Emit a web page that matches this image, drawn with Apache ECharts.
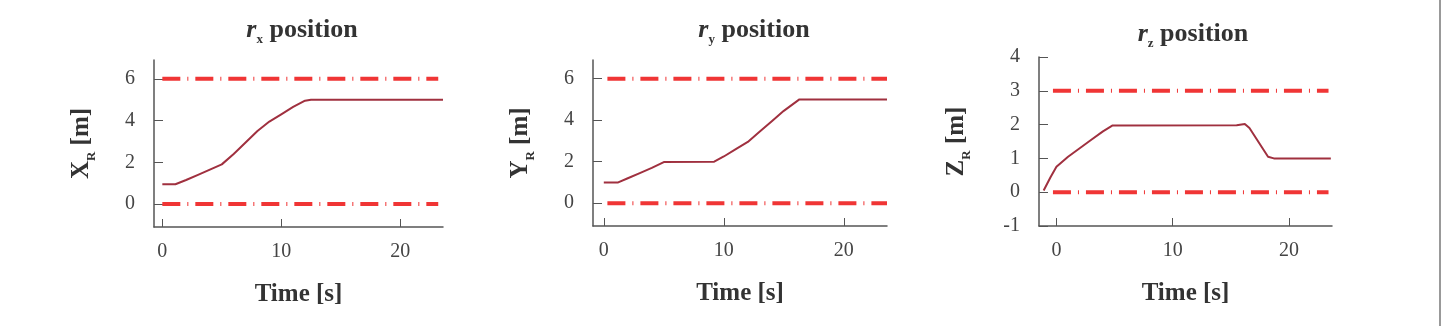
<!DOCTYPE html>
<html lang="en">
<head>
    <meta charset="UTF-8">
    <title>Robot position</title>
    <script src="https://cdn.jsdelivr.net/npm/echarts@6/dist/echarts.min.js"></script>
    <style type="text/css">
        body{ margin:0; background:#fff; }
        #main{ width:1449px; height:326px; }
    </style>
</head>
<body>
<div id="main"></div>
<script type="application/javascript">
    // data
    var timeX = [0, 1.1, 2, 3, 4, 5, 6, 7, 8, 9, 10, 11, 12, 12.5, 23.6];
    var posX  = [0.95, 0.95, 1.15, 1.4, 1.65, 1.9, 2.4, 2.95, 3.5, 3.95, 4.3, 4.65, 4.95, 5, 5];

    var timeY = [0, 1.2, 2, 3, 4, 5, 9.2, 10, 11, 12, 13, 14, 15, 16.3, 23.6];
    var posY  = [1, 1, 1.2, 1.45, 1.7, 1.98, 2, 2.25, 2.6, 2.95, 3.45, 3.95, 4.45, 5, 5];

    var timeZ = [-1.1, -0.5, 0, 1, 2, 3, 4, 4.8, 15.5, 16.2, 16.6, 18.2, 18.7, 23.6];
    var posZ  = [0.05, 0.45, 0.75, 1.05, 1.3, 1.55, 1.8, 1.97, 1.98, 2.02, 1.9, 1.05, 1, 1];

    // limit lines: [start time, end time], [lower, upper]
    var limTimeX = [0, 23.2], limX = [0, 6];
    var limTimeY = [0.3, 23.6], limY = [0, 6];
    var limTimeZ = [-0.3, 23.4], limZ = [0, 3];

    var xTicks = [0, 10, 20];
    var yTicksXY = [0, 2, 4, 6];
    var yTicksZ = [-1, 0, 1, 2, 3, 4];

    var serif = 'Liberation Serif';
    var axisColor = '#555';
    var lineColor = '#a0303f';
    var limColor = '#f03535';

    function pairs(xs, ys) {
        return xs.map(function (x, i) { return [x, ys[i]]; });
    }

    function xAxisOpt(idx, min, max) {
        return {
            type: 'value', gridIndex: idx, min: min, max: max,
            name: 'Time [s]', nameLocation: 'middle', nameGap: 55,
            nameTextStyle: { fontFamily: serif, fontSize: 25, fontWeight: 'bold', color: '#333' },
            axisLine: { onZero: false, lineStyle: { color: axisColor, width: 1.5 } },
            axisTick: { inside: true, length: 8, customValues: xTicks, lineStyle: { color: axisColor } },
            axisLabel: { customValues: xTicks, margin: 15, fontFamily: serif, fontSize: 20, color: '#444' },
            splitLine: { show: false }
        };
    }

    function yAxisOpt(idx, min, max, ticks, letter, gap) {
        return {
            type: 'value', gridIndex: idx, min: min, max: max,
            name: '{m|' + letter + '}{s|R}{m| [m]}', nameLocation: 'middle', nameGap: gap,
            nameTextStyle: {
                rich: {
                    m: { fontFamily: serif, fontSize: 25, fontWeight: 'bold', color: '#333', lineHeight: 32 },
                    s: { fontFamily: serif, fontSize: 13, fontWeight: 'bold', color: '#333', lineHeight: 13, verticalAlign: 'bottom' }
                }
            },
            axisLine: { show: true, onZero: false, lineStyle: { color: axisColor, width: 1.5 } },
            axisTick: { show: true, inside: true, length: 9, customValues: ticks, lineStyle: { color: axisColor } },
            axisLabel: { customValues: ticks, margin: 19, fontFamily: serif, fontSize: 20, color: '#444' },
            splitLine: { show: false }
        };
    }

    function titleOpt(left, top, sub) {
        return {
            text: '{r|r}{s|' + sub + '}{p| position}',
            left: left, top: top, textAlign: 'center',
            textStyle: {
                rich: {
                    r: { fontFamily: serif, fontSize: 26, fontWeight: 'bold', fontStyle: 'italic', color: '#333', lineHeight: 32 },
                    s: { fontFamily: serif, fontSize: 13, fontWeight: 'bold', color: '#333', lineHeight: 13, verticalAlign: 'bottom' },
                    p: { fontFamily: serif, fontSize: 26, fontWeight: 'bold', color: '#333', lineHeight: 32 }
                }
            }
        };
    }

    function limitSeries(idx, times, value) {
        return {
            type: 'line', xAxisIndex: idx, yAxisIndex: idx, symbol: 'none', silent: true,
            data: [[times[0], value], [times[1], value]],
            lineStyle: { color: limColor, width: 4, type: [18, 7, 1, 7] }
        };
    }

    function posSeries(idx, xs, ys) {
        return {
            type: 'line', xAxisIndex: idx, yAxisIndex: idx, symbol: 'none',
            data: pairs(xs, ys),
            lineStyle: { color: lineColor, width: 2 }
        };
    }

    var myChart = echarts.init(document.getElementById('main'));

    myChart.setOption({
        animation: false,
        title: [
            titleOpt(297, 9, 'x'),
            titleOpt(749, 9, 'y'),
            titleOpt(1188, 13, 'z')
        ],
        grid: [
            { left: 154, top: 60, width: 289, height: 167 },
            { left: 593, top: 60, width: 294, height: 166 },
            { left: 1039, top: 57, width: 293, height: 169 }
        ],
        xAxis: [
            xAxisOpt(0, -0.7, 23.6),
            xAxisOpt(1, -0.9, 23.6),
            xAxisOpt(2, -1.5, 23.7)
        ],
        yAxis: [
            yAxisOpt(0, -1.1, 6.9, yTicksXY, 'X', 56),
            yAxisOpt(1, -1.1, 6.9, yTicksXY, 'Y', 56),
            yAxisOpt(2, -1, 4, yTicksZ, 'Z', 66)
        ],
        series: [
            limitSeries(0, limTimeX, limX[1]),
            limitSeries(0, limTimeX, limX[0]),
            posSeries(0, timeX, posX),
            limitSeries(1, limTimeY, limY[1]),
            limitSeries(1, limTimeY, limY[0]),
            posSeries(1, timeY, posY),
            limitSeries(2, limTimeZ, limZ[1]),
            limitSeries(2, limTimeZ, limZ[0]),
            posSeries(2, timeZ, posZ)
        ],
        graphic: [{
            type: 'line', silent: true,
            shape: { x1: 1440, y1: 0, x2: 1440, y2: 326 },
            style: { stroke: '#999', lineWidth: 2 }
        }]
    });
</script>
</body>
</html>
